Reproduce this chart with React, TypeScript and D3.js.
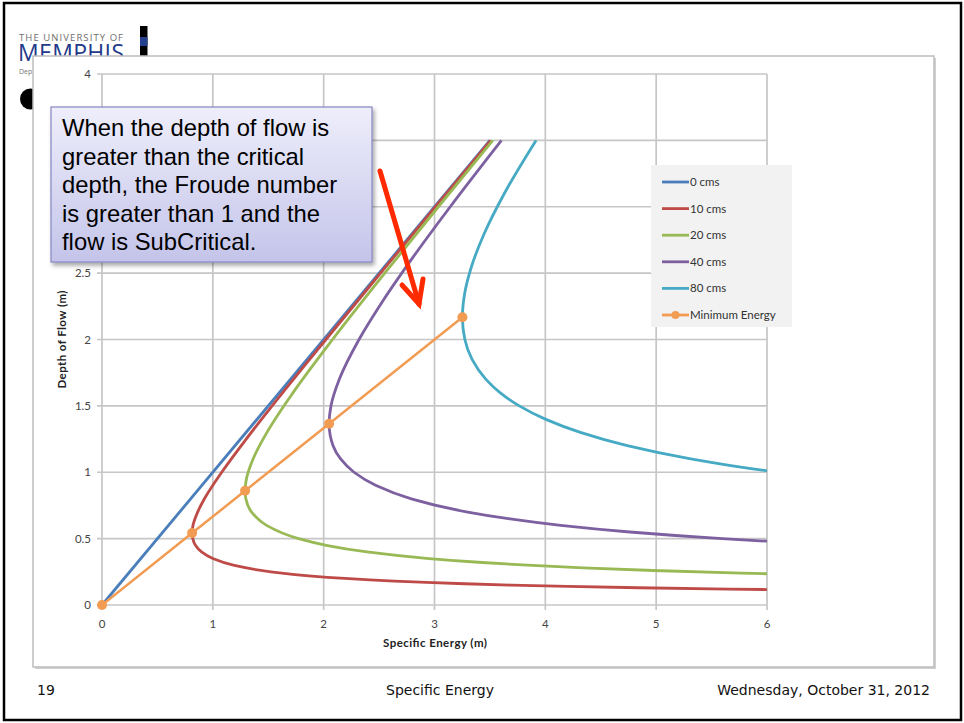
import React from "react";
import * as d3 from "d3";

// Specific energy curves: [specific energy E (m), depth y (m)]
const flow0: [number, number][] = [
  [0, 0],
  [3.5, 3.5],
];
const flow10: [number, number][] = [
  [6.137, 0.115], [5.651, 0.12], [4.842, 0.13], [4.203, 0.14], [3.69, 0.15],
  [3.271, 0.16], [2.926, 0.17], [2.638, 0.18], [2.191, 0.2], [1.865, 0.22],
  [1.524, 0.25], [1.185, 0.3], [1.0, 0.35], [0.898, 0.4], [0.843, 0.45],
  [0.819, 0.5], [0.813, 0.542], [0.821, 0.6], [0.863, 0.7], [0.924, 0.8],
  [1.08, 1.0], [1.301, 1.25], [1.535, 1.5], [2.02, 2.0], [2.513, 2.5],
  [3.009, 3.0], [3.507, 3.5],
];
const flow20: [number, number][] = [
  [6.252, 0.23], [5.77, 0.24], [4.972, 0.26], [4.343, 0.28], [3.839, 0.3],
  [3.431, 0.32], [2.95, 0.35], [2.391, 0.4], [2.023, 0.45], [1.774, 0.5],
  [1.485, 0.6], [1.35, 0.7], [1.298, 0.8], [1.291, 0.86], [1.303, 0.95],
  [1.363, 1.1], [1.488, 1.3], [1.724, 1.6], [2.08, 2.0], [2.551, 2.5],
  [3.035, 3.0], [3.526, 3.5],
];
const flow40: [number, number][] = [
  [6.238, 0.47], [6.01, 0.48], [5.597, 0.5], [4.762, 0.55], [4.139, 0.6],
  [3.666, 0.65], [3.3, 0.7], [2.791, 0.8], [2.473, 0.9], [2.274, 1.0],
  [2.153, 1.1], [2.085, 1.2], [2.049, 1.366], [2.066, 1.5], [2.141, 1.7],
  [2.319, 2.0], [2.541, 2.3], [2.789, 2.6], [3.142, 3.0], [3.604, 3.5],
];
const flow80: [number, number][] = [
  [7.192, 0.9], [6.598, 0.95], [6.097, 1.0], [5.673, 1.05], [5.312, 1.1],
  [4.739, 1.2], [4.316, 1.3], [4.0, 1.4], [3.765, 1.5], [3.591, 1.6],
  [3.464, 1.7], [3.339, 1.85], [3.274, 2.0], [3.252, 2.168], [3.273, 2.35],
  [3.334, 2.55], [3.45, 2.8], [3.63, 3.1], [3.916, 3.5],
];
const minimumEnergy: [number, number][] = [
  [0, 0], [0.813, 0.542], [1.291, 0.86], [2.049, 1.366], [3.252, 2.168],
];

const seriesLabels = ["0 cms", "10 cms", "20 cms", "40 cms", "80 cms", "Minimum Energy"];
const xTicks = [0, 1, 2, 3, 4, 5, 6];
const yTicks = [0, 0.5, 1, 1.5, 2, 2.5, 3, 3.5, 4];
const calloutLines = [
  "When the depth of flow is",
  "greater than the critical",
  "depth, the Froude number",
  "is greater than 1 and the",
  "flow is SubCritical.",
];

const COLORS = ["#4a7ebb", "#be4b48", "#98b954", "#7d60a0", "#46aac5", "#f29b52"];

export default function App() {
  const W = 964;
  const H = 723;
  const plot = { left: 102, right: 767, top: 74, bottom: 605 };
  const x = d3.scaleLinear().domain([0, 6]).range([plot.left, plot.right]);
  const y = d3.scaleLinear().domain([0, 4]).range([plot.bottom, plot.top]);

  const curveLine = d3
    .line<[number, number]>()
    .x((d) => x(d[0]))
    .y((d) => y(d[1]))
    .curve(d3.curveMonotoneY);
  const straight = d3
    .line<[number, number]>()
    .x((d) => x(d[0]))
    .y((d) => y(d[1]));

  const curves = [flow0, flow10, flow20, flow40, flow80];
  const tickFont = "Lato, 'Open Sans', sans-serif";
  const footFont = "'DejaVu Sans', Verdana, sans-serif";
  const legendY0 = 182;
  const legendStep = 26.6;

  return (
    <svg
      width={W}
      height={H}
      viewBox={`0 0 ${W} ${H}`}
      style={{ position: "absolute", left: 0, top: 0, background: "#fff" }}
    >
      <defs>
        <clipPath id="plotClip">
          <rect x={plot.left} y={plot.top - 2} width={plot.right - plot.left} height={plot.bottom - plot.top + 4} />
        </clipPath>
        <linearGradient id="calloutFill" x1="0" y1="0" x2="0" y2="1">
          <stop offset="0" stopColor="#eeeefb" />
          <stop offset="1" stopColor="#c4c4ea" />
        </linearGradient>
        <filter id="shadow" x="-10%" y="-10%" width="130%" height="130%">
          <feDropShadow dx="2" dy="3" stdDeviation="2" floodColor="#000" floodOpacity="0.35" />
        </filter>
      </defs>

      {/* slide frame */}
      <rect x={4} y={3} width={957} height={717} fill="#fff" stroke="#000" strokeWidth={2.5} />

      {/* university header */}
      <text x={19} y={40.5} fontFamily="'Open Sans', sans-serif" fontSize={9.5} fill="#6d6d6d" textLength={104}>
        THE UNIVERSITY OF
      </text>
      <text x={18} y={61} fontFamily="'Open Sans', sans-serif" fontSize={23} fill="#22398a" textLength={106}>
        MEMPHIS
      </text>
      <text x={19} y={74} fontFamily="'Open Sans', sans-serif" fontSize={7} fill="#777">
        Dep
      </text>
      <rect x={140} y={26} width={7.5} height={32} fill="#000" />
      <rect x={140} y={37} width={7.5} height={9} fill="#24408e" />
      <circle cx={30.5} cy={99} r={10.5} fill="#000" />

      {/* chart panel */}
      <rect x={35} y={58} width={901} height={611} fill="#d0d0d0" />
      <rect x={33} y={56} width={901} height={611} fill="#fff" stroke="#bdbdbd" strokeWidth={1.5} />

      {/* gridlines */}
      {xTicks.map((t) => (
        <line key={`gx${t}`} x1={x(t)} x2={x(t)} y1={plot.top} y2={plot.bottom + 5} stroke="#c6c6c6" strokeWidth={1.7} />
      ))}
      {yTicks.map((t) => (
        <line key={`gy${t}`} x1={plot.left - 5} x2={plot.right} y1={y(t)} y2={y(t)} stroke="#c6c6c6" strokeWidth={1.7} />
      ))}

      {/* tick labels */}
      {xTicks.map((t) => (
        <text key={`tx${t}`} x={x(t)} y={628} textAnchor="middle" fontFamily={tickFont} fontSize={11.5} fill="#444">
          {t}
        </text>
      ))}
      {yTicks.map((t) => (
        <text key={`ty${t}`} x={91} y={y(t) + 4} textAnchor="end" fontFamily={tickFont} fontSize={11.5} fill="#444">
          {t}
        </text>
      ))}

      {/* axis titles */}
      <text x={435} y={647} textAnchor="middle" fontFamily={tickFont} fontWeight="bold" fontSize={11.5} fill="#222" textLength={104}>
        Specific Energy (m)
      </text>
      <text
        transform={`translate(66, ${y(2)}) rotate(-90)`}
        textAnchor="middle"
        fontFamily={tickFont}
        fontWeight="bold"
        fontSize={11.5}
        fill="#222"
        textLength={98}
      >
        Depth of Flow (m)
      </text>

      {/* series */}
      <g clipPath="url(#plotClip)">
        {curves.map((c, i) => (
          <path key={`c${i}`} d={curveLine(c) ?? ""} fill="none" stroke={COLORS[i]} strokeWidth={2.8} />
        ))}
        <path d={straight(minimumEnergy) ?? ""} fill="none" stroke={COLORS[5]} strokeWidth={2.5} />
      </g>
      {minimumEnergy.map((d, i) => (
        <circle key={`m${i}`} cx={x(d[0])} cy={y(d[1])} r={5} fill={COLORS[5]} />
      ))}

      {/* legend */}
      <rect x={651} y={165} width={141} height={162} fill="#f2f2f2" />
      {seriesLabels.map((s, i) => {
        const ly = legendY0 + i * legendStep;
        return (
          <g key={s}>
            <line x1={662} x2={689} y1={ly} y2={ly} stroke={COLORS[i]} strokeWidth={2.8} />
            {i === 5 && <circle cx={675.5} cy={ly} r={4} fill={COLORS[i]} />}
            <text x={690} y={ly + 4} fontFamily={tickFont} fontSize={11.5} fill="#333">
              {s}
            </text>
          </g>
        );
      })}

      {/* callout */}
      <rect x={51} y={107} width={321} height={155} fill="url(#calloutFill)" stroke="#8585c2" strokeWidth={1.2} filter="url(#shadow)" />
      {calloutLines.map((l, i) => (
        <text key={`l${i}`} x={62} y={136 + i * 28.5} fontFamily="'Liberation Sans', Arial, sans-serif" fontSize={23.8} fill="#000">
          {l}
        </text>
      ))}

      {/* red arrow */}
      <g stroke="#ff2a00" strokeWidth={5} strokeLinecap="round" fill="none">
        <line x1={380} y1={171} x2={419} y2={304} />
        <polyline points="402,285 419,304 423,279" strokeLinejoin="miter" />
      </g>

      {/* footer */}
      <text x={37} y={695} fontFamily={footFont} fontSize={14} fill="#111">
        19
      </text>
      <text x={440} y={695} textAnchor="middle" fontFamily={footFont} fontSize={14} fill="#111">
        Specific Energy
      </text>
      <text x={930} y={695} textAnchor="end" fontFamily={footFont} fontSize={14} fill="#111">
        Wednesday, October 31, 2012
      </text>
    </svg>
  );
}
